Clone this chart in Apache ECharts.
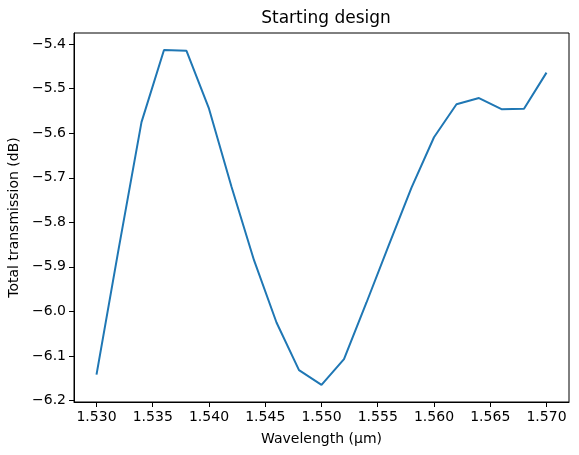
<!DOCTYPE html>
<html>
<head>
<meta charset="utf-8">
<script src="https://cdn.jsdelivr.net/npm/echarts@6/dist/echarts.min.js"></script>
<style>
  html, body { margin: 0; padding: 0; background: #fff; }
  #chart { width: 579px; height: 455px; }
</style>
</head>
<body>
<div id="chart"></div>
<script>
// wavelength (um) and total transmission (dB)
const wavelengths = [1.530, 1.532, 1.534, 1.536, 1.538, 1.540, 1.542, 1.544, 1.546, 1.548,
  1.550, 1.552, 1.554, 1.556, 1.558, 1.560, 1.562, 1.564, 1.566, 1.568, 1.570];
const transmission = [-6.142, -5.855, -5.575, -5.413, -5.415, -5.545, -5.72, -5.885, -6.025, -6.132,
  -6.165, -6.107, -5.98, -5.85, -5.722, -5.609, -5.535, -5.521, -5.546, -5.545, -5.464];
const xTicks = [1.530, 1.535, 1.540, 1.545, 1.550, 1.555, 1.560, 1.565, 1.570];
const yTicks = [-6.2, -6.1, -6.0, -5.9, -5.8, -5.7, -5.6, -5.5, -5.4];

const chart = echarts.init(document.getElementById("chart"));
const font = "DejaVu Sans";
const minus = (s) => s.replace("-", "\u2212");

chart.setOption({
  animation: false,
  title: {
    text: "Starting design",
    left: 321, top: 5, textAlign: "center",
    textStyle: { fontFamily: font, fontSize: 17, fontWeight: "normal", color: "#000" }
  },
  grid: {
    left: 74, right: 10, top: 33, bottom: 53,
    outerBoundsMode: "none", containLabel: false,
    show: true, borderColor: "#000", borderWidth: 1
  },
  xAxis: {
    type: "value", min: 1.528, max: 1.572,
    name: "Wavelength (\u00b5m)", nameLocation: "middle", nameGap: 30,
    nameTextStyle: { fontFamily: font, fontSize: 14, color: "#000" },
    axisLine: { show: true, lineStyle: { color: "#000", width: 1 } },
    axisTick: { show: true, length: 5, inside: false, customValues: xTicks, lineStyle: { color: "#000" } },
    axisLabel: {
      customValues: xTicks, margin: 8,
      fontFamily: font, fontSize: 14, color: "#000",
      formatter: (v) => v.toFixed(3)
    },
    splitLine: { show: false }
  },
  yAxis: {
    type: "value", min: -6.2034, max: -5.375,
    name: "Total transmission (dB)", nameLocation: "middle", nameGap: 47,
    nameTextStyle: { fontFamily: font, fontSize: 14, color: "#000" },
    axisLine: { show: true, lineStyle: { color: "#000", width: 1 } },
    axisTick: { show: true, length: 5, inside: false, customValues: yTicks, lineStyle: { color: "#000" } },
    axisLabel: {
      customValues: yTicks, margin: 8,
      fontFamily: font, fontSize: 14, color: "#000",
      formatter: (v) => minus(v.toFixed(1))
    },
    splitLine: { show: false }
  },
  series: [{
    type: "line",
    data: wavelengths.map((w, i) => [w, transmission[i]]),
    showSymbol: false,
    lineStyle: { color: "#1f77b4", width: 2 },
    itemStyle: { color: "#1f77b4" }
  }]
});
</script>
</body>
</html>
